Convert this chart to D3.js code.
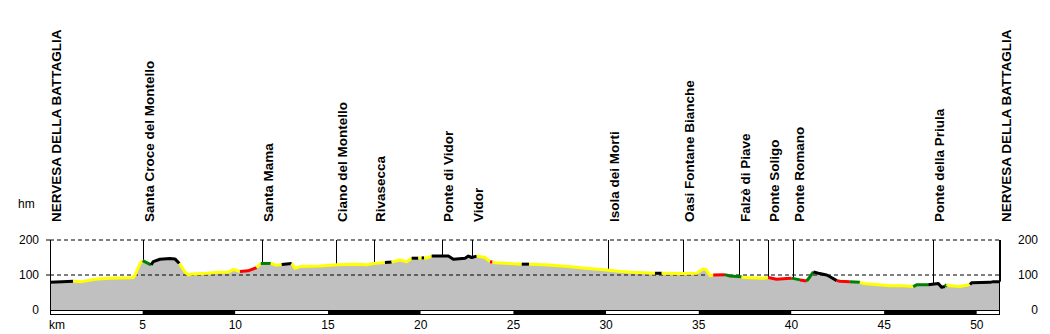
<!DOCTYPE html>
<html>
<head>
<meta charset="utf-8">
<script src="https://cdn.jsdelivr.net/npm/d3@7"></script>
<style>
  body { margin: 0; background: #fff; }
  .tick-label { font-family: "Liberation Sans", Arial, sans-serif; font-size: 12px; fill: #000; }
  .place { font-family: "Liberation Sans", Arial, sans-serif; font-weight: bold; font-size: 13.5px; fill: #000; }
</style>
</head>
<body>
<div id="chart"></div>
<script>
// profile points (km, metres) and surface of the stretch that starts at each point
const profileKm = [0, 0.65, 1.24, 1.73, 2.43, 3.24, 4.48, 4.59, 4.86, 5.0, 5.45, 5.57, 5.93, 6.47, 6.74, 6.98, 7.28, 7.46, 7.64, 8.45, 9.08, 9.62, 9.89, 10.25, 10.68, 11.15, 11.37, 11.91, 12.19, 12.5, 13.04, 13.22, 13.49, 14.57, 15.47, 16.55, 17.08, 17.44, 18.07, 18.43, 18.88, 19.24, 19.51, 19.87, 20.05, 20.18, 20.32, 20.59, 21.49, 21.76, 22.39, 22.57, 22.75, 23.02, 23.47, 23.74, 23.87, 24.01, 24.82, 25.45, 25.84, 26.7, 27.96, 28.86, 29.76, 30.66, 31.38, 32.64, 33.0, 33.99, 34.89, 35.21, 35.39, 35.6, 35.78, 36.41, 36.68, 37.31, 37.4, 38.48, 38.75, 39.2, 39.74, 40.01, 40.46, 40.82, 41.0, 41.18, 41.45, 41.9, 42.08, 42.44, 42.62, 43.15, 43.69, 43.87, 44.51, 45.31, 46.03, 46.57, 46.75, 47.38, 47.92, 48.1, 48.28, 48.37, 48.55, 49.09, 49.63, 49.72, 50.71, 50.89, 51.25];
const profileElev = [79, 81, 82, 81, 88, 91, 92, 100, 133, 141, 129, 138, 145, 147, 146, 133, 109, 100, 103, 105, 108, 108, 116, 110, 112, 121, 133, 133, 128, 130, 133, 119, 124, 126, 129, 131, 129, 133, 136, 137, 143, 138, 148, 148, 149, 149, 148, 154, 154, 145, 148, 154, 150, 154, 150, 138, 137, 135, 133, 131, 131, 129, 124, 119, 116, 111, 108, 105, 105, 104, 105, 117, 116, 98, 100, 101, 97, 95, 93, 91, 93, 88, 90, 91, 86, 83, 95, 109, 105, 100, 95, 84, 82, 81, 79, 76, 73, 69, 69, 67, 72, 72, 76, 65, 67, 73, 69, 67, 73, 78, 79, 81, 81];
const profileSurface = ['K', 'K', 'Y', 'Y', 'Y', 'Y', 'Y', 'Y', 'Y', 'G', 'K', 'K', 'K', 'K', 'K', 'Y', 'Y', 'Y', 'Y', 'Y', 'Y', 'Y', 'Y', 'R', 'R', 'Y', 'G', 'Y', 'Y', 'K', 'Y', 'Y', 'Y', 'Y', 'Y', 'Y', 'Y', 'Y', 'K', 'Y', 'Y', 'Y', 'K', 'Y', 'K', 'Y', 'Y', 'K', 'K', 'K', 'K', 'K', 'K', 'Y', 'Y', 'R', 'Y', 'Y', 'Y', 'K', 'Y', 'Y', 'Y', 'Y', 'Y', 'Y', 'Y', 'K', 'Y', 'Y', 'Y', 'Y', 'Y', 'Y', 'R', 'G', 'G', 'Y', 'Y', 'Y', 'R', 'R', 'R', 'G', 'R', 'G', 'G', 'K', 'K', 'K', 'K', 'R', 'R', 'G', 'Y', 'Y', 'Y', 'Y', 'Y', 'G', 'G', 'K', 'K', 'K', 'G', 'Y', 'Y', 'Y', 'K', 'K', 'K', 'K', 'K'];

const placeNames = ['NERVESA DELLA BATTAGLIA', 'Santa Croce del Montello', 'Santa Mama', 'Ciano del Montello', 'Rivasecca', 'Ponte di Vidor', 'Vidor', 'Isola dei Morti', 'Oasi Fontane Bianche', 'Falzè di Piave', 'Ponte Soligo', 'Ponte Romano', 'Ponte della Priula', 'NERVESA DELLA BATTAGLIA'];
const placeKm = [0, 5.02, 11.42, 15.43, 17.48, 21.16, 22.75, 30.12, 34.16, 37.15, 38.72, 40.1, 47.65, 51.25];

const elevTicks = [0, 100, 200];
const kmTicks = [5, 10, 15, 20, 25, 30, 35, 40, 45, 50];
const kmTotal = 51.25;

const surfaceColor = { Y: '#ffff00', K: '#000000', G: '#008000', R: '#ff0000' };

const width = 1050;
const height = 334;

const x = d3.scaleLinear().domain([0, kmTotal]).range([50, 1000]);
const y = d3.scaleLinear().domain([0, 200]).range([310, 240]);

const svg = d3.select('#chart').
append('svg').
attr('width', width).
attr('height', height);

const points = profileKm.map((k, i) => ({ km: k, elev: profileElev[i], surf: profileSurface[i] }));

// grey ground under the profile
svg.append('path').
datum(points).
attr('fill', '#c0c0c0').
attr('d', d3.area().x(d => x(d.km)).y0(y(0)).y1(d => y(d.elev)));

// dashed reference lines
svg.selectAll('line.grid').
data([100, 200]).
enter().
append('line').
attr('class', 'grid').
attr('x1', x(0)).
attr('x2', x(kmTotal)).
attr('y1', d => y(d)).
attr('y2', d => y(d)).
attr('stroke', '#000').
attr('stroke-dasharray', '4,3');

// elevation under each place
function elevAt(k) {
  const i = Math.min(Math.max(d3.bisectRight(profileKm, k), 1), profileKm.length - 1);
  const k0 = profileKm[i - 1], k1 = profileKm[i];
  const t = k1 === k0 ? 0 : (k - k0) / (k1 - k0);
  return profileElev[i - 1] + t * (profileElev[i] - profileElev[i - 1]);
}

svg.selectAll('line.place').
data(placeKm).
enter().
append('line').
attr('class', 'place').
attr('x1', d => Math.round(x(d)) + 0.5).
attr('x2', d => Math.round(x(d)) + 0.5).
attr('y1', y(200)).
attr('y2', d => y(elevAt(d))).
attr('stroke', '#000');

// profile line, one path per run of same surface
const runs = [];
let run = null;
for (let i = 0; i < points.length - 1; i++) {
  if (!run || run.surf !== points[i].surf) {
    run = { surf: points[i].surf, pts: [points[i]] };
    runs.push(run);
  }
  run.pts.push(points[i + 1]);
}

const line = d3.line().x(d => x(d.km)).y(d => y(d.elev));

svg.selectAll('path.run').
data(runs).
enter().
append('path').
attr('class', 'run').
attr('fill', 'none').
attr('stroke', d => surfaceColor[d.surf]).
attr('stroke-width', 3).
attr('stroke-linejoin', 'round').
attr('d', d => line(d.pts));

// km stripe bar
const stripes = d3.range(0, kmTotal, 5).map(k => [k, Math.min(k + 5, kmTotal)]);
svg.selectAll('rect.stripe').
data(stripes).
enter().
append('rect').
attr('class', 'stripe').
attr('x', d => x(d[0])).
attr('y', 310).
attr('width', d => x(d[1]) - x(d[0])).
attr('height', 4).
attr('fill', (d, i) => i % 2 ? '#000' : '#fff');

svg.append('rect').
attr('x', 50.5).
attr('y', 310.5).
attr('width', 949).
attr('height', 4).
attr('fill', 'none').
attr('stroke', '#000');

// side axes
[50.5, 999.5].forEach(function (ax) {
  svg.append('line').
  attr('x1', ax).
  attr('x2', ax).
  attr('y1', y(200)).
  attr('y2', 314).
  attr('stroke', '#000');
});

svg.selectAll('line.ytick').
data([100, 200]).
enter().
append('line').
attr('class', 'ytick').
attr('x1', 46).
attr('x2', 50).
attr('y1', d => y(d)).
attr('y2', d => y(d)).
attr('stroke', '#000');

svg.selectAll('text.yleft').
data(elevTicks).
enter().
append('text').
attr('class', 'tick-label yleft').
attr('x', 39).
attr('y', d => y(d) + 4).
attr('text-anchor', 'end').
text(d => d);

svg.selectAll('text.yright').
data(elevTicks).
enter().
append('text').
attr('class', 'tick-label yright').
attr('x', 1038).
attr('y', d => y(d) + 4).
attr('text-anchor', 'end').
text(d => d);

svg.append('text').
attr('class', 'tick-label').
attr('x', 18).
attr('y', 208).
text('hm');

svg.append('text').
attr('class', 'tick-label').
attr('x', 49).
attr('y', 329).
text('km');

svg.selectAll('text.xtick').
data(kmTicks).
enter().
append('text').
attr('class', 'tick-label xtick').
attr('x', d => x(d)).
attr('y', 329).
attr('text-anchor', 'middle').
text(d => d);

// place names, vertical
svg.selectAll('text.place').
data(placeNames).
enter().
append('text').
attr('class', 'place').
attr('transform', (d, i) => 'translate(' + (Math.round(x(placeKm[i])) + 11) + ',222) rotate(-90)').
text(d => d);
</script>
</body>
</html>
